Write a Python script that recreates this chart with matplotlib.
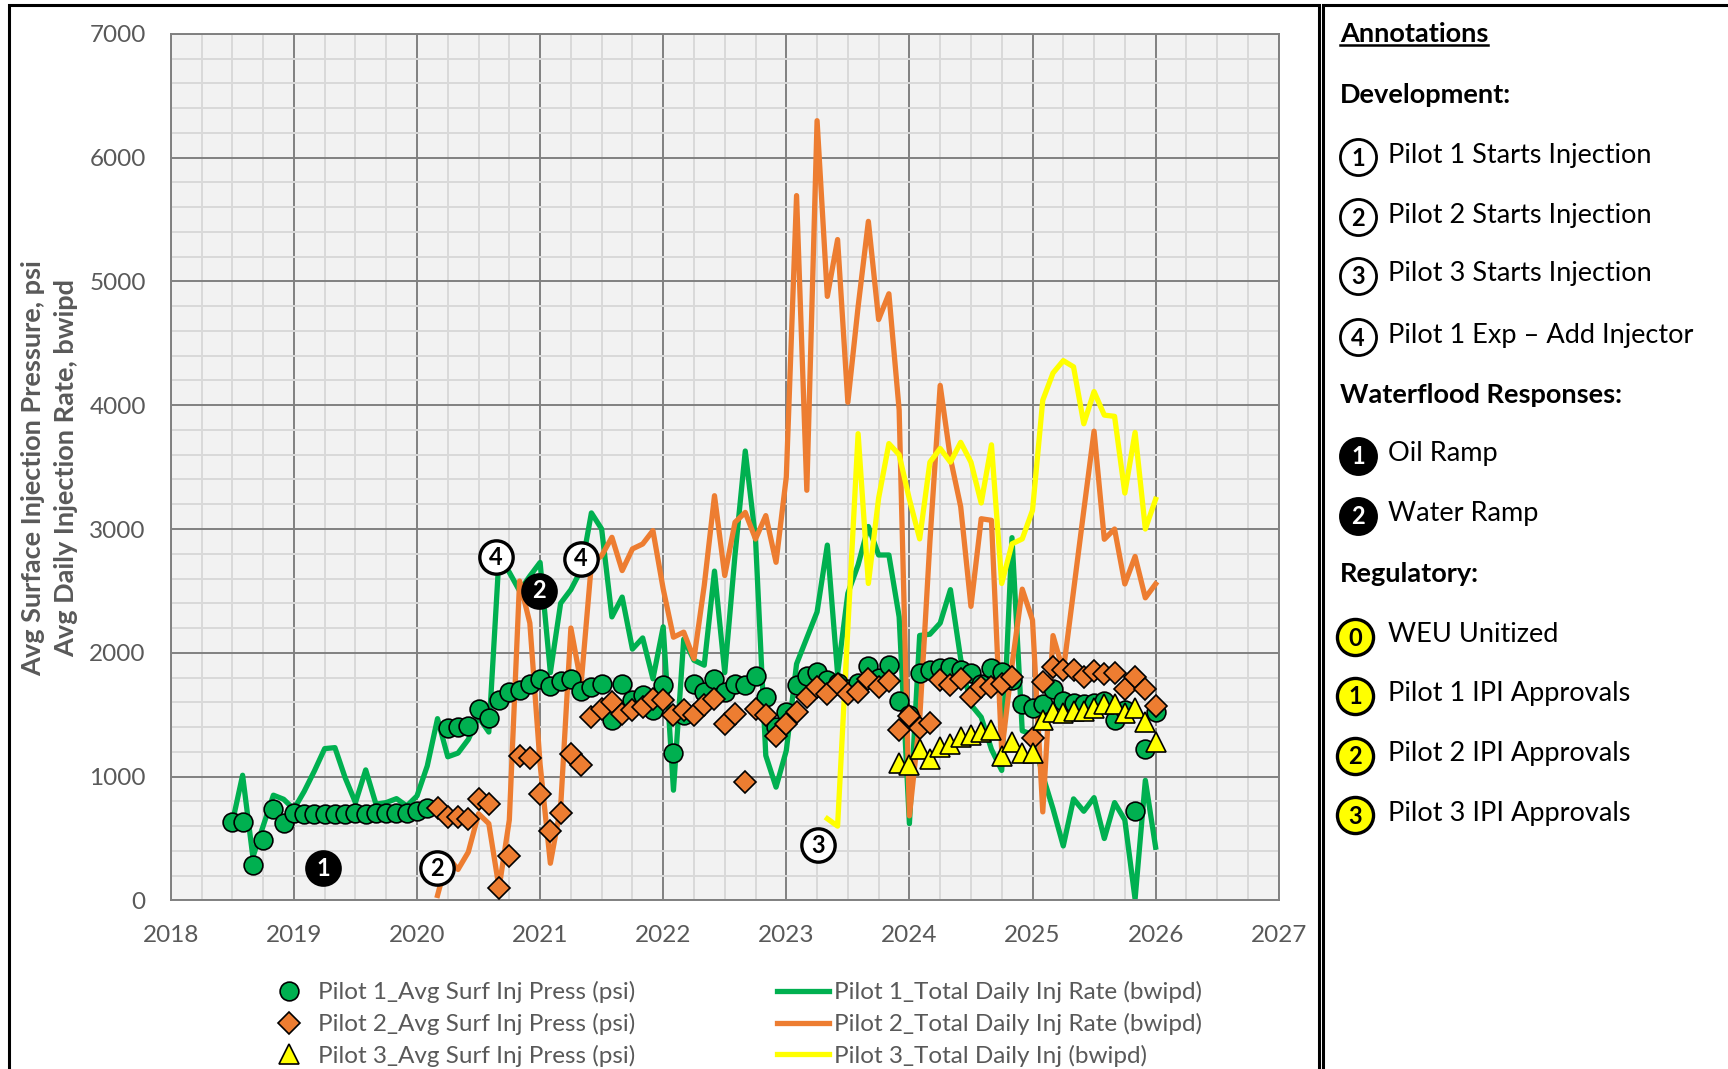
import numpy as np
import pandas as pd
import matplotlib
matplotlib.use('Agg')
import matplotlib.pyplot as plt
from matplotlib.patches import Rectangle
from matplotlib.lines import Line2D
from matplotlib.transforms import IdentityTransform

plt.rcParams['font.family'] = ['Lato', 'DejaVu Sans']

nan = np.nan

# ---- data (monthly values) ----
p1_start = '2018-07'
p1_press = [630, 630, 285, 487, 737, 629,
            705, 700, 700, 700, 700, 700, 705, 700, 705, 705, 705, 710,
            720, 745, nan, 1395, 1400, 1410, 1545, 1470, 1620, 1680, 1700, 1745,
            1785, 1730, 1775, 1785, 1690, 1725, 1748, 1454, 1750, 1616, 1661, 1535,
            1737, 1194, 1495, 1750, 1683, 1790, 1683, 1750, 1737, 1809, 1643, 1400,
            1520, 1740, 1815, 1845, 1780, 1755, 1710, 1755, 1890, 1800, 1900, 1610,
            1500, 1833, 1861, 1875, 1889, 1861, 1833, 1750, 1875, 1847, 1778, 1583,
            1555, 1583, 1708, 1611, 1597, 1583, 1597, 1611, 1458, 1542, 720, 1220,
            1520]
p1_rate = [629, 1011, 350, 600, 850, 817,
           737, 880, 1046, 1226, 1234, 990, 790, 1054, 777, 790, 822, 763,
           844, 1086, 1468, 1160, 1190, 1300, 1480, 1360, 2780, 2650, 2500, 2620,
           2730, 1840, 2400, 2510, 2670, 3130, 3000, 2290, 2450, 2030, 2120, 1790,
           2210, 890, 2110, 1940, 1900, 2660, 1840, 2790, 3630, 2920, 1170, 915,
           1210, 1910, 2120, 2330, 2870, 1830, 2480, 2710, 3020, 2790, 2790, 2290,
           620, 2140, 2150, 2240, 2510, 1950, 1580, 1480, 1220, 1050, 2930, 1370,
           1340, 1010, 740, 440, 820, 720, 830, 500, 790, 650, 10, 970,
           430]

p2_start = '2020-03'
p2_press = [750, 670, 670, 656, 817, 777, 97, 360, 1167, 1153,
            858, 562, 710, 1180, 1095, 1485, 1545, 1602, 1508, 1535, 1562, 1629,
            1616, 1495, 1535, 1495, 1575, 1629, 1427, 1508, 957, 1548, 1495, 1325,
            1427, 1520, 1643, 1727, 1665, 1748, 1665, 1686, 1790, 1727, 1769, 1380,
            1490, 1389, 1430, 1778, 1736, 1792, 1639, 1722, 1722, 1750, 1805, nan,
            1314, 1764, 1889, 1861, 1861, 1805, 1853, 1825, 1833, 1708, 1805, 1708,
            1569]
p2_rate = [40, 350, 250, 390, 700, 620, 100, 650, 2580, 2240,
           1100, 300, 750, 2200, 1750, 2720, 2785, 2933, 2664, 2839, 2879, 2987,
           2516, 2126, 2167, 1952, 2543, 3269, 2624, 3054, 3134, 2919, 3108, 2731,
           3420, 5693, 3313, 6298, 4879, 5338, 4023, 4796, 5485, 4692, 4900, 3962,
           683, 1460, 2900, 4160, 3570, 3180, 2375, 3083, 3070, 1200, 1900, 2514,
           2264, 715, 2139, 1850, 2500, 3150, 3790, 2917, 3000, 2556, 2778, 2444,
           2556]

p3_press_start = '2023-12'
p3_press = [1111, 1097, 1222, 1139, 1236, 1264, 1319, 1333, 1361, 1375, 1167, 1278, 1194,
            1190, 1460, 1520, 1515, 1528, 1530, 1555, 1583, 1583, 1514, 1555, 1444,
            1278]
p3_rate_start = '2023-05'
p3_rate = [660, 600, 2200, 3770, 2560, 3250, 3690, 3600,
           3240, 2920, 3540, 3650, 3540, 3700, 3540, 3210, 3680, 2560, 2880, 2920,
           3150, 4040, 4260, 4360, 4310, 3850, 4110, 3920, 3910, 3290, 3780, 3000,
           3240]

# event markers inside the chart: (x, y, label, style)
events = [(2019.24, 258, '1', 'black'), (2020.16, 258, '2', 'white'),
          (2023.26, 445, '3', 'white'), (2020.64, 2770, '4', 'white'),
          (2021.33, 2760, '4', 'white'), (2020.99, 2500, '2', 'black')]

year_ticks = list(range(2018, 2028))

GREEN = '#00B050'
ORANGE = '#ED7D31'
YELLOW = '#FFFF00'
GRAY_TXT = '#595959'


def month_axis(start, n):
    d = pd.date_range(start, periods=n, freq='MS')
    return np.asarray(d.year + (d.month - 1) / 12.0)


W, H = 1728, 1069
fig = plt.figure(figsize=(W / 100, H / 100), dpi=100)

# frames
fig.patches.append(Rectangle((9 / W, -0.01), (1319 - 9) / W, 0.9953 + 0.01,
                             transform=fig.transFigure, fill=False,
                             edgecolor='black', linewidth=2.2))
fig.patches.append(Rectangle((1323 / W, -0.01), 0.3, 0.9953 + 0.01,
                             transform=fig.transFigure, fill=False,
                             edgecolor='black', linewidth=2.2))

ax = fig.add_axes([170.8 / W, 1 - 900.4 / H, (1278.7 - 170.8) / W, (900.4 - 33.8) / H])
ax.set_facecolor('#F2F2F2')
ax.set_xlim(2018, 2027)
ax.set_ylim(0, 7000)
ax.set_xticks(year_ticks)
ax.set_xticks(np.arange(2018, 2027.01, 0.25), minor=True)
ax.set_yticks(range(0, 7001, 1000))
ax.set_yticks(range(0, 7001, 200), minor=True)
ax.grid(which='minor', color='#D9D9D9', linewidth=1.4, zorder=0)
ax.grid(which='major', color='#808080', linewidth=1.4, zorder=0)
ax.set_axisbelow(True)
ax.tick_params(which='both', length=0)
ax.tick_params(axis='x', labelsize=17.5, labelcolor=GRAY_TXT, pad=18)
ax.tick_params(axis='y', labelsize=17.5, labelcolor=GRAY_TXT, pad=18)
for s in ax.spines.values():
    s.set_color('#808080')
    s.set_linewidth(1.4)

x1 = month_axis(p1_start, len(p1_rate))
x2 = month_axis(p2_start, len(p2_rate))
x3p = month_axis(p3_press_start, len(p3_press))
x3r = month_axis(p3_rate_start, len(p3_rate))

l1, = ax.plot(x1, p1_rate, color=GREEN, lw=3.8, zorder=2,
              label='Pilot 1_Total Daily Inj Rate (bwipd)')
l2, = ax.plot(x2, p2_rate, color=ORANGE, lw=3.8, zorder=2.1,
              label='Pilot 2_Total Daily Inj Rate (bwipd)')
l3, = ax.plot(x3r, p3_rate, color=YELLOW, lw=3.8, zorder=2.2,
              label='Pilot 3_Total Daily Inj (bwipd)')

m1, = ax.plot(x1, p1_press, 'o', ms=13.5, mfc=GREEN, mec='black', mew=1.2, zorder=3,
              label='Pilot 1_Avg Surf Inj Press (psi)')
m2, = ax.plot(x2, p2_press, 'D', ms=11.5, mfc=ORANGE, mec='black', mew=1.2, zorder=3.1,
              label='Pilot 2_Avg Surf Inj Press (psi)')
m3, = ax.plot(x3p, p3_press, '^', ms=14, mfc=YELLOW, mec='black', mew=1.2, zorder=3.2,
              label='Pilot 3_Avg Surf Inj Press (psi)')

for ex, ey, lab, style in events:
    fc, tc = ('black', 'white') if style == 'black' else ('white', 'black')
    ax.plot(ex, ey, 'o', ms=24, mfc=fc, mec='black', mew=2.4, zorder=5)
    ax.text(ex, ey, lab, ha='center', va='center', fontsize=17, fontweight='bold',
            color=tc, zorder=6)

fig.text(33 / W, 0.562, 'Avg Surface Injection Pressure, psi', rotation=90,
         ha='center', va='center', fontsize=19.5, fontweight='bold', color=GRAY_TXT)
fig.text(66 / W, 0.562, 'Avg Daily Injection Rate, bwipd', rotation=90,
         ha='center', va='center', fontsize=19.5, fontweight='bold', color=GRAY_TXT)

# legends
leg_y = 1 - 1024 / H
lg1 = fig.legend(handles=[m1, m2, m3], loc='center left', bbox_to_anchor=(265 / W, leg_y),
                 frameon=False, fontsize=17.5, numpoints=1, handlelength=2.0,
                 handletextpad=0.2, labelspacing=0.4, borderpad=0, borderaxespad=0)
lg2 = fig.legend(handles=[l1, l2, l3], loc='center left', bbox_to_anchor=(777 / W, leg_y),
                 frameon=False, fontsize=17.5, handlelength=2.14,
                 handletextpad=0.2, labelspacing=0.4, borderpad=0, borderaxespad=0)
for lg in (lg1, lg2):
    for t in lg.get_texts():
        t.set_color(GRAY_TXT)

# annotation panel (pixel coordinates)
pax = fig.add_axes([0, 0, 1, 1])
pax.set_xlim(0, W)
pax.set_ylim(H, 0)
pax.axis('off')
pax.patch.set_alpha(0)

headers = [('Annotations', 34), ('Development:', 95),
           ('Waterflood Responses:', 395), ('Regulatory:', 574)]
items = [('1', 'Pilot 1 Starts Injection', 155, 'dev'),
         ('2', 'Pilot 2 Starts Injection', 215, 'dev'),
         ('3', 'Pilot 3 Starts Injection', 274, 'dev'),
         ('4', 'Pilot 1 Exp \u2013 Add Injector', 335, 'dev'),
         ('1', 'Oil Ramp', 454, 'wf'),
         ('2', 'Water Ramp', 514, 'wf'),
         ('0', 'WEU Unitized', 635, 'reg'),
         ('1', 'Pilot 1 IPI Approvals', 694, 'reg'),
         ('2', 'Pilot 2 IPI Approvals', 754, 'reg'),
         ('3', 'Pilot 3 IPI Approvals', 813, 'reg')]

head_texts = []
for txt, y in headers:
    head_texts.append(pax.text(1340, y, txt, ha='left', va='center', fontsize=19.5,
                               fontweight='bold', color='black'))

for num, txt, y, kind in items:
    if kind == 'dev':
        cx, fc, ec, tc, mew = 1358, 'white', 'black', 'black', 2.0
    elif kind == 'wf':
        cx, fc, ec, tc, mew = 1358, 'black', 'black', 'white', 2.0
    else:
        cx, fc, ec, tc, mew = 1355, YELLOW, 'black', 'black', 2.4
    pax.plot(cx, y + 2, 'o', ms=26, mfc=fc, mec=ec, mew=mew)
    pax.text(cx, y + 3, num, ha='center', va='center', fontsize=17, fontweight='bold', color=tc)
    pax.text(1388, y, txt, ha='left', va='center', fontsize=19.5, color='black')

# underline the panel title
fig.canvas.draw()
bb = head_texts[0].get_window_extent(fig.canvas.get_renderer())
fig.add_artist(Line2D([bb.x0, bb.x1], [bb.y0 + 1, bb.y0 + 1], transform=IdentityTransform(),
                      color='black', linewidth=1.8))

fig.savefig('out.png', dpi=100)
